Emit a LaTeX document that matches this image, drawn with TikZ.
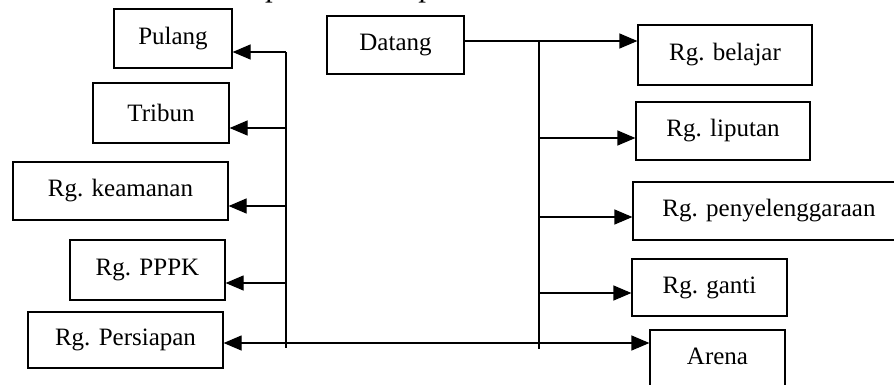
\documentclass[tikz,border=0pt]{standalone}
\usepackage{fontspec}
\setmainfont{Liberation Serif}
\usetikzlibrary{arrows.meta}
\begin{document}
\begin{tikzpicture}[x=1pt,y=-1pt,
  room/.style={draw,line width=1.2pt,inner sep=0pt,
    font=\fontsize{25}{28}\selectfont},
  head/.style={inner sep=0pt,outer sep=0pt,
    font=\fontsize{31}{34}\selectfont\itshape},
  link/.style={line width=1.2pt},
  arr/.style={link,-{Triangle[length=18pt,width=15pt]}},
  darr/.style={link,{Triangle[length=18pt,width=15pt]}-{Triangle[length=18pt,width=15pt]}}]
\useasboundingbox (0,0) rectangle (894,384);
\clip (0,0) rectangle (894,384);

% heading: the page edge cuts it just under its baseline
\node[head,anchor=base east] (heading) at (536,-4) {pemain dan penonton};

% left column: rooms on the way out
\node[room,minimum width=118,minimum height=59] (pulang)    at (173,38.5)  {Pulang};
\node[room,minimum width=136,minimum height=60] (tribun)    at (161,113)   {Tribun};
\node[room,minimum width=215,minimum height=58] (keamanan)  at (120.5,191) {Rg. keamanan};
\node[room,minimum width=155,minimum height=60] (pppk)      at (147.5,270) {Rg. PPPK};
\node[room,minimum width=195,minimum height=56] (persiapan) at (125.5,340) {Rg. Persiapan};

% start
\node[room,minimum width=137,minimum height=58] (datang) at (395.5,45) {Datang};

% right column: rooms on the way in
\node[room,minimum width=174,minimum height=60] (belajar) at (725,55)    {Rg. belajar};
\node[room,minimum width=174,minimum height=58] (liputan) at (723,131)   {Rg. liputan};
\node[room,minimum width=272,minimum height=58] (penyel)  at (769,211)   {Rg. penyelenggaraan};
\node[room,minimum width=155,minimum height=57] (ganti)   at (709.5,287.5) {Rg. ganti};
\node[room,minimum width=135,minimum height=70,text depth=18pt] (arena) at (717.5,365) {Arena};

% bus lines
\coordinate (rtop) at (539,41);
\coordinate (rbot) at (539,349);
\coordinate (ltop) at (286,52);
\coordinate (lbot) at (286,348);

\draw[arr] (rtop -| datang.east) -- (rtop -| belajar.west);
\draw[link] (rtop) -- (rbot);
\draw[arr] (539,138) -- (liputan.west |- 0,138);
\draw[arr] (539,217) -- (penyel.west |- 0,217);
\draw[arr] (539,293) -- (ganti.west |- 0,293);

\draw[link] (ltop) -- (lbot);
\draw[arr] (ltop) -- (pulang.east |- ltop);
\draw[arr] (286,128) -- (tribun.east |- 0,128);
\draw[arr] (286,206) -- (keamanan.east |- 0,206);
\draw[arr] (286,283) -- (pppk.east |- 0,283);

\draw[darr] (persiapan.east |- 0,343) -- (arena.west |- 0,343);
\end{tikzpicture}
\end{document}
